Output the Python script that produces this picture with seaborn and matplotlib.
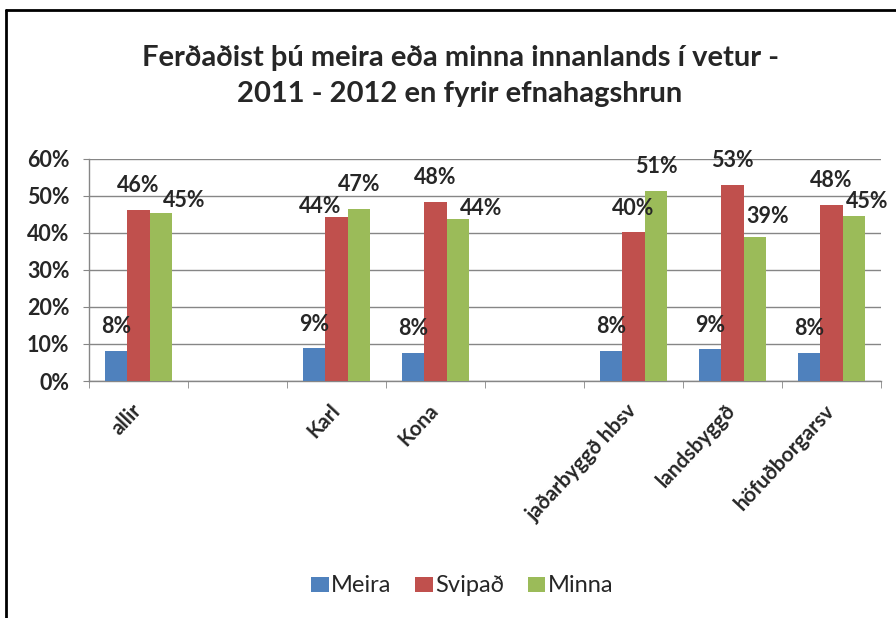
import numpy as np
import pandas as pd
import matplotlib
matplotlib.use('Agg')
import matplotlib.pyplot as plt
from matplotlib.lines import Line2D
import seaborn as sns

# Gögn lesin af myndinni (hlutfall í %)
hopar = ['allir', 'Karl', 'Kona', 'jaðarbyggð hbsv', 'landsbyggð', 'höfuðborgarsv']
meira = [8.2, 8.8, 7.6, 8.2, 8.6, 7.7]
svipad = [46.3, 44.4, 48.5, 40.2, 53.0, 47.6]
minna = [45.4, 46.6, 43.8, 51.4, 38.8, 44.7]
svor = ['Meira', 'Svipað', 'Minna']
litir = ['#4F81BD', '#C0504D', '#9BBB59']

# x-ás með tveimur auðum bilum eins og í Excel
x_order = ['allir', ' ', 'Karl', 'Kona', '  ', 'jaðarbyggð hbsv', 'landsbyggð', 'höfuðborgarsv']
y_ticks = [0, 10, 20, 30, 40, 50, 60]

titill = 'Ferðaðist þú meira eða minna innanlands í vetur -\n2011 - 2012 en fyrir efnahagshrun'

df = pd.DataFrame({
    'hopur': np.repeat(hopar, 3),
    'svar': svor * len(hopar),
    'gildi': np.ravel(np.column_stack([meira, svipad, minna])),
})

sns.set_style('white')
plt.rcParams['font.family'] = ['Lato', 'DejaVu Sans']
grey = '#868686'

fig = plt.figure(figsize=(8.96, 6.18), dpi=100)
ax = fig.add_axes([89 / 896, 1 - 381 / 618, 792 / 896, 222 / 618])

sns.barplot(data=df, x='hopur', y='gildi', hue='svar', order=x_order,
            hue_order=svor, palette=litir, width=0.68, saturation=1,
            edgecolor='none', ax=ax, zorder=3)

ax.set_xlim(-0.5, len(x_order) - 0.5)
ax.set_ylim(0, 60)
ax.set_yticks(y_ticks)
ax.set_yticklabels([f'{v}%' for v in y_ticks], fontsize=15.5, fontweight='bold')
ax.yaxis.grid(True, color=grey, linewidth=1, zorder=0)
ax.set_axisbelow(True)
ax.set_xlabel('')
ax.set_ylabel('')

for s in ['top', 'right']:
    ax.spines[s].set_visible(False)
for s in ['left', 'bottom']:
    ax.spines[s].set_color(grey)
    ax.spines[s].set_linewidth(1)

ax.tick_params(axis='y', direction='out', length=4, color=grey, pad=10, left=True)
ax.set_xticks(range(len(x_order)))
ax.set_xticklabels(x_order, rotation=47, ha='right', va='center',
                   rotation_mode='anchor', fontsize=15, fontweight='bold')
ax.tick_params(axis='x', which='major', length=0, pad=19)
ax.set_xticks(np.arange(-0.5, len(x_order)), minor=True)
ax.tick_params(axis='x', which='minor', direction='out', length=5, color=grey, bottom=True)

# Gagnamerki; nokkur hliðruð eins og á fyrirmyndinni (dx, dy í px)
hlidrun = {
    ('allir', 'Minna'): (23, -11),
    ('Karl', 'Svipað'): (-16, -14),
    ('Kona', 'Minna'): (23, -14),
    ('landsbyggð', 'Minna'): (13, -3),
    ('höfuðborgarsv', 'Minna'): (13, -10),
}
for cont, svar in zip(ax.containers, svor):
    for bar in cont:
        h = bar.get_height()
        if not np.isfinite(h) or h <= 0:
            continue
        xc = bar.get_x() + bar.get_width() / 2
        hopur = x_order[int(round(xc))]
        dx, dy = hlidrun.get((hopur, svar), (0, 0))
        ax.annotate(f'{h:.0f}%', (xc, h), xytext=(dx * 0.72, (24 + dy) * 0.72),
                    textcoords='offset points', ha='center', va='center',
                    fontsize=15.5, fontweight='bold', zorder=5)

sns.move_legend(ax, 'center', bbox_to_anchor=(462 / 896, 1 - 586 / 618),
                bbox_transform=fig.transFigure, ncol=3, frameon=False, title=None,
                fontsize=17, handlelength=0.75, handleheight=0.62,
                handletextpad=0.1, columnspacing=1.0)

fig.text(460 / 896, 1 - 76 / 618, titill, ha='center', va='center',
         fontsize=21, fontweight='bold', linespacing=1.5)

# ramminn utan um myndina (aðeins efri og vinstri brún sjást)
fig.add_artist(Line2D([6 / 896, 6 / 896], [0, 1 - 10 / 618], color='black',
                      linewidth=2, transform=fig.transFigure))
fig.add_artist(Line2D([6 / 896, 1], [1 - 10 / 618, 1 - 10 / 618], color='black',
                      linewidth=2, transform=fig.transFigure))

fig.savefig('out.png', dpi=100)
